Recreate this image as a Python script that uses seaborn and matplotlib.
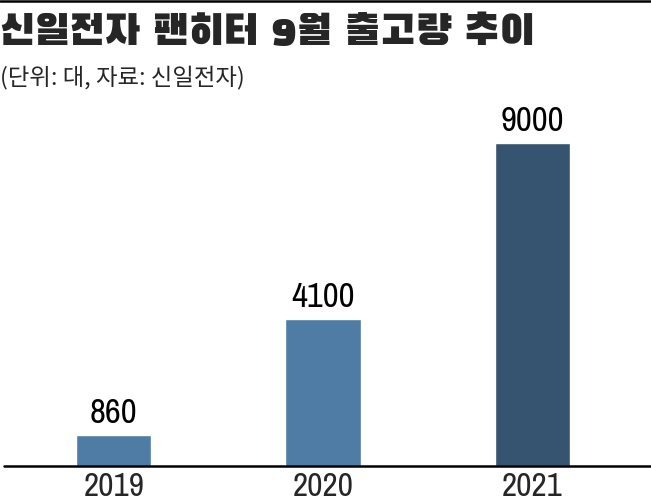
import matplotlib
matplotlib.use("Agg")
import matplotlib.pyplot as plt
from matplotlib.lines import Line2D
import seaborn as sns

# data
years = ["2019", "2020", "2021"]
units = [860, 4100, 9000]
bar_colors = ["#4f7ca4", "#4f7ca4", "#36546f"]

title = "신일전자 팬히터 9월 출고량 추이"
subtitle = "(단위: 대, 자료: 신일전자)"

sns.set_style("white")
plt.rcParams["font.family"] = ["Noto Sans CJK KR", "DejaVu Sans"]
title_font = ["Black Han Sans", "Noto Sans CJK KR", "DejaVu Sans"]
num_font = ["Archivo Narrow", "Roboto Condensed", "DejaVu Sans"]

W, H = 651, 504
fig = plt.figure(figsize=(W / 100, H / 100), dpi=100)
ax = fig.add_axes([0, 38 / H, 1, 323 / H])

sns.barplot(x=years, y=units, hue=years, palette=bar_colors, legend=False,
            width=0.359, saturation=1, ax=ax)

ax.set_xlim(-0.545, 2.569)
ax.set_ylim(0, 9000)
ax.set_yticks([])
ax.set_ylabel("")
sns.despine(ax=ax, left=True, bottom=True, top=True, right=True)
ax.tick_params(axis="x", length=0, pad=4)
for lbl in ax.get_xticklabels():
    lbl.set_family(num_font)
    lbl.set_fontsize(24)

ax.axhline(0, xmin=4 / W, xmax=1, color="black", lw=1.8, clip_on=False, zorder=5)

for cont in ax.containers:
    ax.bar_label(cont, fmt="%d", padding=4.5, fontsize=25, family=num_font,
                 color="black", clip_on=False)

# top rule
fig.add_artist(Line2D([0, 1], [1 - 1.25 / H, 1 - 1.25 / H], transform=fig.transFigure,
                      color="black", lw=1.8))

fig.text(0, 1 - 33 / H, title, fontsize=30.5, family=title_font, va="center", ha="left")
fig.text(0, 1 - 77 / H, subtitle, fontsize=16.8, fontweight="medium", va="center", ha="left")

fig.savefig("out.png", dpi=100)
plt.close(fig)
